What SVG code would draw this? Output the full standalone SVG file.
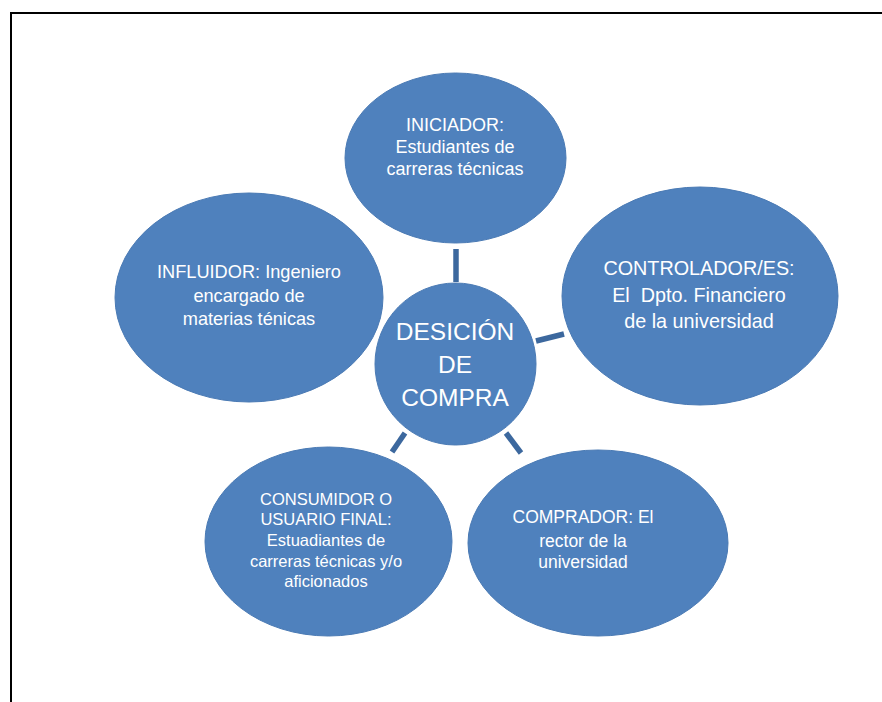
<svg xmlns="http://www.w3.org/2000/svg" width="882" height="702" viewBox="0 0 882 702">
<style>
.node{fill:#4F81BD;stroke:#4A7AB4;stroke-width:1}
.t{fill:#FFFFFF;font-family:"Liberation Sans",Arial,sans-serif;text-anchor:middle}
.c{stroke:#3C689E;stroke-width:5.5;stroke-linecap:butt;fill:none}
</style>
<rect width="882" height="702" fill="#FFFFFF"/>
<g id="frame">
<line x1="10" y1="13" x2="882" y2="13" stroke="#000" stroke-width="2"/>
<line x1="11" y1="12" x2="11" y2="702" stroke="#000" stroke-width="2"/>
</g>
<g id="connectors">
<line class="c" x1="456" y1="249" x2="456" y2="282"/>
<line class="c" x1="536" y1="341" x2="564" y2="334"/>
<line class="c" x1="405" y1="433" x2="392" y2="452"/>
<line class="c" x1="506" y1="433" x2="521" y2="453"/>
</g>
<g id="iniciador">
<ellipse class="node" cx="455.5" cy="158" rx="110.5" ry="85"/>
<text class="t" font-size="18"><tspan x="455" y="131">INICIADOR:</tspan><tspan x="455" y="153">Estudiantes de</tspan><tspan x="455" y="175">carreras técnicas</tspan></text>
</g>
<g id="influidor">
<ellipse class="node" cx="249" cy="297.5" rx="134" ry="104.5"/>
<text class="t" font-size="18.2"><tspan x="249" y="278">INFLUIDOR: Ingeniero</tspan><tspan x="249" y="302">encargado de</tspan><tspan x="249" y="325">materias ténicas</tspan></text>
</g>
<g id="controlador">
<ellipse class="node" cx="700" cy="296" rx="138" ry="109"/>
<text class="t" font-size="19.8" style="white-space:pre" xml:space="preserve"><tspan x="699" y="275">CONTROLADOR/ES:</tspan><tspan x="699" y="302">El  Dpto. Financiero</tspan><tspan x="699" y="328">de la universidad</tspan></text>
</g>
<g id="decision">
<ellipse class="node" cx="455.5" cy="364" rx="80.5" ry="81"/>
<text class="t" font-size="24.5"><tspan x="455" y="340">DESICIÓN</tspan><tspan x="455" y="373">DE</tspan><tspan x="455" y="406">COMPRA</tspan></text>
</g>
<g id="consumidor">
<ellipse class="node" cx="328.5" cy="541.5" rx="123.5" ry="94.5"/>
<text class="t" font-size="16.5"><tspan x="326" y="505">CONSUMIDOR O</tspan><tspan x="326" y="525">USUARIO FINAL:</tspan><tspan x="326" y="546">Estuadiantes de</tspan><tspan x="326" y="567">carreras técnicas y/o</tspan><tspan x="326" y="587">aficionados</tspan></text>
</g>
<g id="comprador">
<ellipse class="node" cx="598" cy="543" rx="130" ry="93"/>
<text class="t" font-size="17.5"><tspan x="583" y="523">COMPRADOR: El</tspan><tspan x="583" y="547">rector de la</tspan><tspan x="583" y="568">universidad</tspan></text>
</g>
</svg>
